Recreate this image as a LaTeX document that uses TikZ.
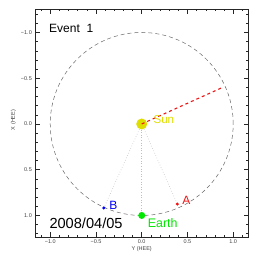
\documentclass[tikz,border=0pt]{standalone}
\usepackage{fontspec}
\setmainfont{Liberation Sans}
\usetikzlibrary{positioning}

\definecolor{sunyellow}{RGB}{222,222,0}
\definecolor{earthgreen}{RGB}{0,232,0}
\definecolor{stared}{RGB}{240,20,20}
\definecolor{stbblue}{RGB}{0,0,245}

\begin{document}
\begin{tikzpicture}[
      x=91.5pt, y=-91.5pt,
      frame/.style={draw=black!85, line width=0.5pt},
      ticklab/.style={font=\fontsize{5.5}{6}\selectfont, text=black!75, inner sep=0pt},
      title/.style={font=\fontsize{12}{14}\selectfont, inner sep=0pt, anchor=west},
      body/.style={circle, inner sep=0pt},
      orbit/.style={draw=black!60, dash pattern=on 4pt off 3pt, line width=0.5pt},
      sight/.style={draw=black!25, dotted, line width=0.6pt},
      cmeline/.style={draw=stared, dash pattern=on 3pt off 3pt, line width=1.1pt}
    ]
    \useasboundingbox (-1.549,-1.355) rectangle (1.271,1.464);

    % plot box and ticks
    \coordinate (ll) at (-1.163,1.236);
    \coordinate (ur) at (1.163,-1.255);
    \draw[frame] (ll) rectangle (ur);
    \foreach \k in {-11,...,11} {
      \draw[frame] (\k/10,-1.255) -- ++(0,0.025);
      \draw[frame] (\k/10,1.236) -- ++(0,-0.025);
    }
    \foreach \k in {-12,...,12} {
      \draw[frame] (-1.163,\k/10) -- ++(0.025,0);
      \draw[frame] (1.163,\k/10) -- ++(-0.025,0);
    }
    \foreach \v in {-1,-0.5,0,0.5,1} {
      \draw[frame] (\v,-1.255) -- ++(0,0.05);
      \draw[frame] (\v,1.236) -- ++(0,-0.05);
      \draw[frame] (-1.163,\v) -- ++(0.05,0);
      \draw[frame] (1.163,\v) -- ++(-0.05,0);
    }
    \foreach \v/\s [count=\n] in {-1/−1.0,-0.5/−0.5,0/0.0,0.5/0.5,1/1.0} {
      \node[ticklab, anchor=east] (ylab\n) at (-1.199,\v) {\s};
      \node[ticklab] (xlab\n) at (\v,1.286) {\s};
    }
    \node[ticklab] (xtitle) at (0,1.372) {Y (HEE)};
    \node[ticklab, rotate=90] (ytitle) at (-1.403,-0.044) {X (HEE)};

    % orbit and bodies
    \node[circle, minimum size=183pt, orbit] (orbit) at (0,0) {};
    \node[body, fill=sunyellow, minimum size=11pt] (sun) at (0,0) {};
    \node[body, fill=earthgreen, minimum size=7pt] (earth) at (0,1.0) {};
    \node[body, fill=stbblue, minimum size=3.4pt] (stb) at (-0.414,0.918) {};
    \node[body, fill=stared, minimum size=3.4pt] (sta) at (0.389,0.875) {};

    \draw[sight] (sun) -- (stb);
    \draw[sight] (sun) -- (earth);
    \draw[sight] (sun) -- (sta);

    \coordinate (cme) at (0.885,-0.40);
    \draw[cmeline] (sun.center) -- (cme);

    % labels
    \node[title] (event) at (-1.013,-1.046) {Event~~1};
    \node[title, font=\fontsize{14.6}{16}\selectfont] (date) at (-1.01,1.085) {2008/04/05};
    \node[title, text=earthgreen, font=\fontsize{12.4}{14}\selectfont] (earthlab) at (0.066,1.087) {Earth};
    \node[title, text=sunyellow, font=\fontsize{11.6}{13}\selectfont] (sunlab) at (0.127,-0.049) {Sun};
    \node[title, anchor=center, text=stbblue] (stblab) at (-0.31,0.885) {B};
    \node[title, anchor=center, text=stared] (stalab) at (0.487,0.836) {A};
  \end{tikzpicture}
\end{document}
